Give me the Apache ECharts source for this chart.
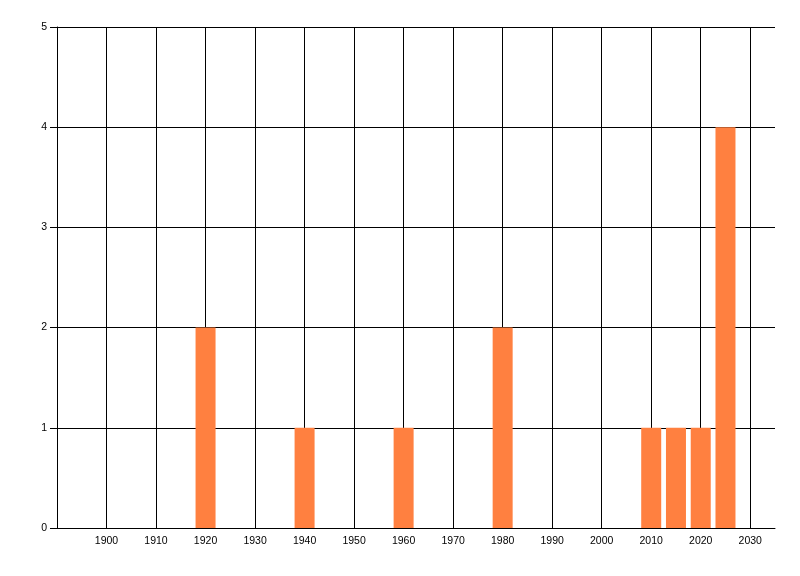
<!DOCTYPE html>
<html>
<head>
<meta charset="utf-8">
<script src="https://cdn.jsdelivr.net/npm/echarts@6/dist/echarts.min.js"></script>
<style>
html,body{margin:0;padding:0;background:#fff;}
#c{width:800px;height:576px;}
</style>
</head>
<body>
<div id="c"></div>
<script>
var years = [1920, 1940, 1960, 1980, 2010, 2015, 2020, 2025];
var counts = [2, 1, 1, 2, 1, 1, 1, 4];
var xTicks = [1900, 1910, 1920, 1930, 1940, 1950, 1960, 1970, 1980, 1990, 2000, 2010, 2020, 2030];
var yTicks = [1, 2, 3, 4, 5];
var xMin = 1890, xMax = 2035, xStep = 10;
var yMin = 0, yMax = 5, yStep = 1;

var chart = echarts.init(document.getElementById('c'), null, {renderer: 'canvas'});
var font = '"Liberation Sans", Arial, sans-serif';
var vLines = xTicks.map(function (v) { return [{coord: [v, yMin]}, {coord: [v, yMax]}]; });
var hLines = yTicks.map(function (v) { return [{coord: [xMin, v]}, {coord: [xMax, v]}]; });
chart.setOption({
  animation: false,
  backgroundColor: '#ffffff',
  grid: {show: false, left: 57, top: 27, right: 25, bottom: 48, containLabel: false},
  xAxis: {
    type: 'value', min: xMin, max: xMax, interval: xStep,
    axisLine: {show: true, lineStyle: {color: '#000', width: 1}},
    axisTick: {show: false},
    axisLabel: {
      color: '#000', fontFamily: font, fontSize: 10.5, margin: 8,
      formatter: function (v) { return (xTicks.indexOf(v) < 0) ? '' : String(v); }
    },
    splitLine: {show: false}
  },
  yAxis: {
    type: 'value', min: yMin, max: yMax, interval: yStep,
    axisLine: {show: true, lineStyle: {color: '#000', width: 1}},
    axisTick: {show: true, length: 7, lineStyle: {color: '#000'}},
    axisLabel: {color: '#000', fontFamily: font, fontSize: 10.5, margin: 10},
    splitLine: {show: false}
  },
  series: [{
    type: 'bar',
    barWidth: 20,
    z: 3,
    itemStyle: {color: '#FF8040'},
    data: years.map(function (y, i) { return [y, counts[i]]; }),
    markLine: {
      silent: true,
      symbol: ['none', 'none'],
      label: {show: false},
      z: 1,
      lineStyle: {color: '#000', width: 1, type: 'solid'},
      emphasis: {disabled: true},
      data: vLines.concat(hLines)
    }
  }]
});
</script>
</body>
</html>
